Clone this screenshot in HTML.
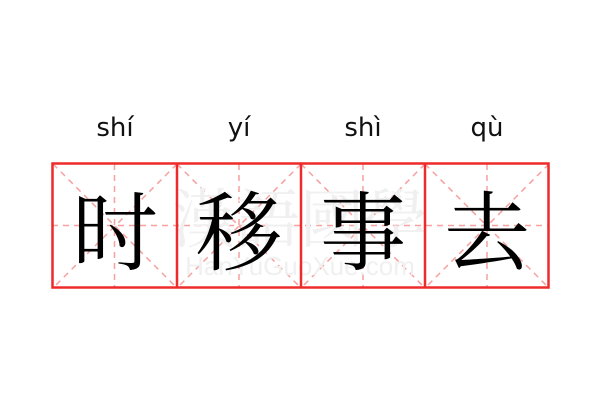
<!DOCTYPE html>
<html><head><meta charset="utf-8"><style>
body{margin:0;width:600px;height:400px;background:#fff;overflow:hidden;position:relative}
.py{position:absolute;top:113px;width:124px;text-align:center;font:26px "DejaVu Sans","Liberation Sans",sans-serif;color:#111}
.ch{position:absolute;top:166px;width:124px;height:120px;text-align:center;font:86px/120px "Noto Serif CJK SC",serif;color:#000}
</style></head><body>
<svg width="600" height="400" style="position:absolute;left:0;top:0">
<g stroke="#f7a0a0" stroke-width="1.5" stroke-dasharray="6,5" fill="none">
<line x1="52" y1="225.5" x2="549" y2="225.5"/>
<line x1="114.5" y1="164" x2="114.5" y2="288"/>
<line x1="239" y1="164" x2="239" y2="288"/>
<line x1="363" y1="164" x2="363" y2="288"/>
<line x1="487" y1="164" x2="487" y2="288"/>
<line x1="53" y1="164" x2="177" y2="288"/><line x1="177" y1="164" x2="53" y2="288"/>
<line x1="177" y1="164" x2="301" y2="288"/><line x1="301" y1="164" x2="177" y2="288"/>
<line x1="301" y1="164" x2="425" y2="288"/><line x1="425" y1="164" x2="301" y2="288"/>
<line x1="425" y1="164" x2="549" y2="288"/><line x1="549" y1="164" x2="425" y2="288"/>
</g>
<text x="300" y="242" text-anchor="middle" font-family="Noto Serif CJK TC,serif" font-size="64" fill="#f0f0f0">漢語國學</text>
<text x="300" y="275" text-anchor="middle" font-family="Liberation Sans,sans-serif" font-size="26" fill="#f0f0f0">HanYuGuoXue.com</text>
<g stroke="#ee2a2a" stroke-width="2.5" fill="none">
<rect x="52.5" y="163.5" width="496" height="124"/>
<line x1="177" y1="163" x2="177" y2="288"/>
<line x1="301" y1="163" x2="301" y2="288"/>
<line x1="425" y1="163" x2="425" y2="288"/>
</g>
</svg>
<div class="py" style="left:53px">shí</div>
<div class="py" style="left:177px">yí</div>
<div class="py" style="left:301px">shì</div>
<div class="py" style="left:425px">qù</div>
<div class="ch" style="left:53px">时</div>
<div class="ch" style="left:177px">移</div>
<div class="ch" style="left:301px">事</div>
<div class="ch" style="left:425px">去</div>
</body></html>
